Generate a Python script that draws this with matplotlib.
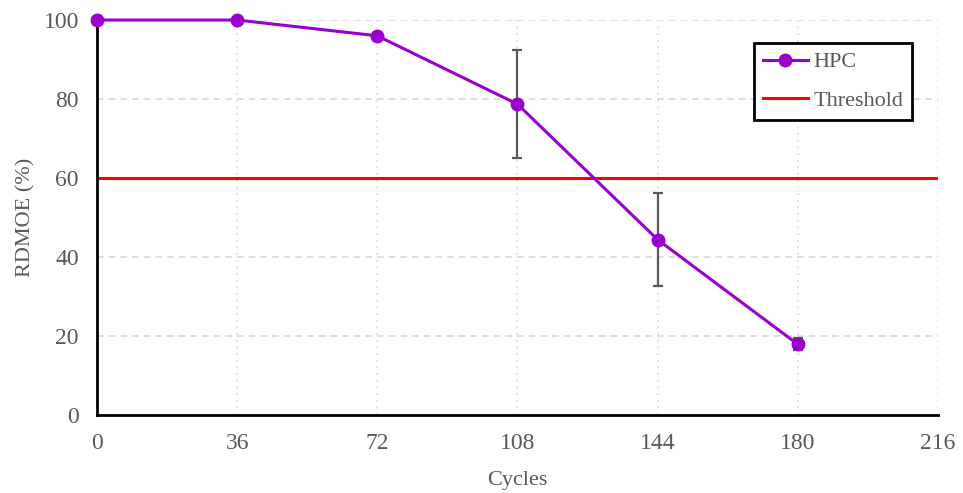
import matplotlib.pyplot as plt
from matplotlib.lines import Line2D

cycles = [0, 36, 72, 108, 144, 180]
rdmoe = [100, 100, 96, 78.7, 44.4, 17.9]
rdmoe_err = [0, 0, 0, 13.7, 11.7, 1.5]
threshold = 60
x_ticks = [0, 36, 72, 108, 144, 180, 216]
y_ticks = [0, 20, 40, 60, 80, 100]

plt.rcParams['font.family'] = ['Liberation Serif', 'DejaVu Serif']

fig = plt.figure(figsize=(9.63, 4.93), dpi=100)
ax = fig.add_axes([0.1007, 0.1582, 0.8733, 0.8012])

hpc_color = '#9900cc'
thr_color = '#ff0000'

ax.axhline(threshold, color=thr_color, lw=2.2, zorder=2)
ax.errorbar(cycles, rdmoe, yerr=rdmoe_err, color=hpc_color, lw=2.2,
            marker='o', markersize=9, ecolor='#595959', elinewidth=1.6,
            capsize=3.6, capthick=1.6, zorder=3, clip_on=False)

ax.set_xlim(0, 216)
ax.set_ylim(0, 100)
ax.set_xticks(x_ticks)
ax.set_yticks(y_ticks)

ax.grid(axis='y', color='#d9d9d9', linestyle=(0, (4, 3)), lw=1.2)
ax.grid(axis='x', color='#d9d9d9', linestyle=(0, (1, 3)), lw=1.2)
ax.set_axisbelow(True)

for side in ('top', 'right'):
    ax.spines[side].set_visible(False)
for side in ('left', 'bottom'):
    ax.spines[side].set_linewidth(2)
    ax.spines[side].set_color('black')

ax.tick_params(axis='both', length=0, labelsize=17, labelcolor='#595959', pad=13)
ax.set_xlabel('Cycles', fontsize=16, color='#595959', labelpad=12)
ax.set_ylabel('RDMOE (%)', fontsize=16, color='#595959', labelpad=6)

handles = [
    Line2D([], [], color=hpc_color, lw=2.2, marker='o', markersize=9),
    Line2D([], [], color=thr_color, lw=2.2),
]
leg = fig.legend(handles, ['HPC', 'Threshold'],
                 loc='upper right', bbox_to_anchor=(912 / 963, 1 - 43 / 493),
                 bbox_transform=fig.transFigure, borderaxespad=0,
                 fontsize=16, frameon=True, fancybox=False,
                 handlelength=2.0, borderpad=0.4, labelspacing=0.8,
                 handletextpad=0.25)
leg.get_frame().set_edgecolor('black')
leg.get_frame().set_linewidth(2)
leg.get_frame().set_alpha(1)
for t in leg.get_texts():
    t.set_color('#595959')

fig.savefig('out.png', dpi=100)
